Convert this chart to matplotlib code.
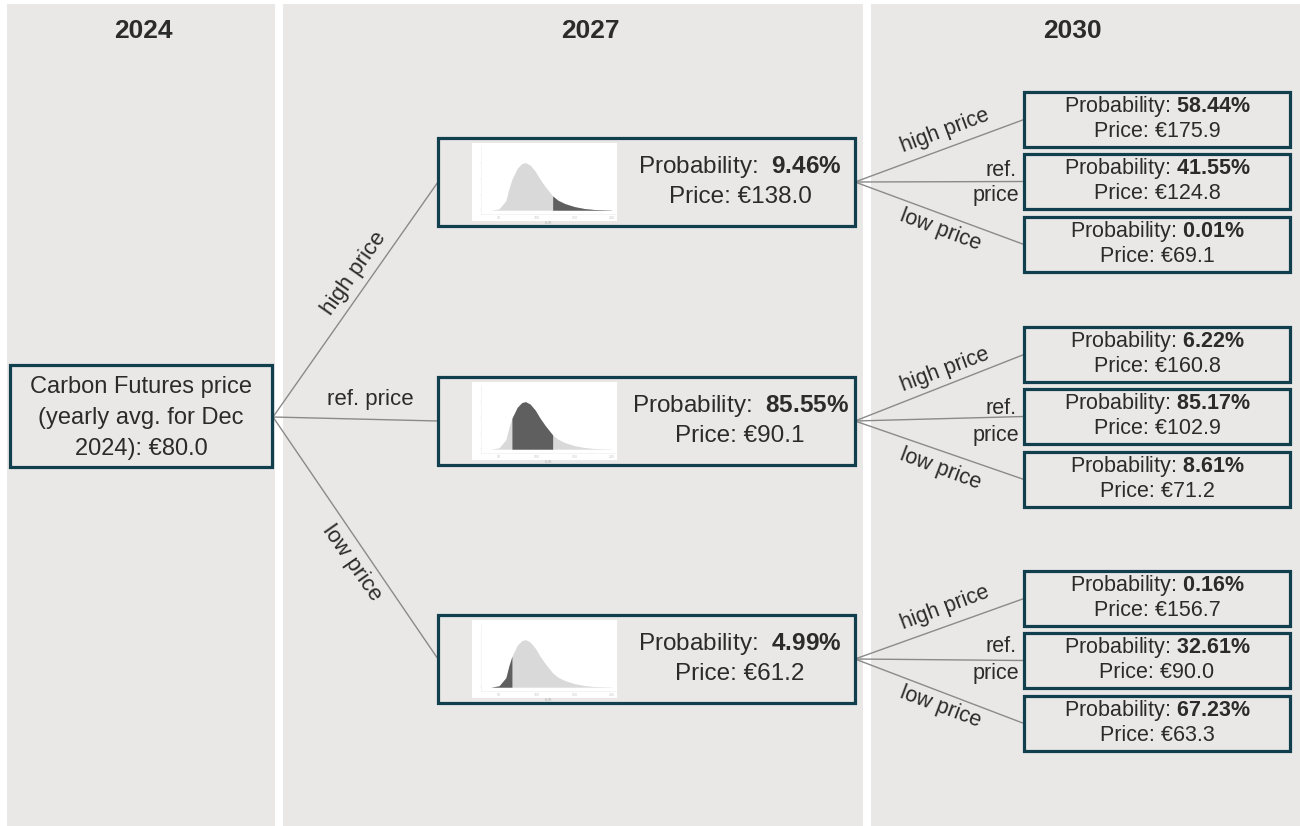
import matplotlib
matplotlib.use('Agg')
import matplotlib.pyplot as plt
from matplotlib.patches import Rectangle

plt.rcParams['font.family'] = ['Liberation Sans', 'DejaVu Sans']
plt.rcParams['mathtext.fontset'] = 'custom'
plt.rcParams['mathtext.rm'] = 'Liberation Sans'
plt.rcParams['mathtext.bf'] = 'Liberation Sans:bold'

# data
years = ['2024', '2027', '2030']
start_label = 'Carbon Futures price\n(yearly avg. for Dec\n2024): €80.0'
branch_labels = ['high price', 'ref. price', 'low price']
mid_probs = [9.46, 85.55, 4.99]
mid_prices = [138.0, 90.1, 61.2]
end_probs = [[58.44, 41.55, 0.01], [6.22, 85.17, 8.61], [0.16, 32.61, 67.23]]
end_prices = [[175.9, 124.8, 69.1], [160.8, 102.9, 71.2], [156.7, 90.0, 63.3]]

# 2027 price density (relative to peak)
density_x = [39, 50, 59, 63, 67, 74, 80, 85, 91, 98, 104, 111, 121, 128, 137, 150, 163, 176, 199]
density_y = [0, 0.03, 0.2, 0.45, 0.65, 0.88, 0.98, 1.0, 0.95, 0.82, 0.66, 0.5, 0.3, 0.21,
             0.14, 0.075, 0.035, 0.015, 0.004]
shade_ranges = [(121, 199), (67, 121), (39, 67)]

PANEL = '#e9e8e6'
EDGE = '#123f4d'
TXT = '#2b2b2b'
LINE = '#8a8a8a'
W, H = 1300, 826

fig = plt.figure(figsize=(13, 8.26), dpi=100)
ax = fig.add_axes([0, 0, 1, 1])
ax.set_xlim(0, W)
ax.set_ylim(H, 0)
ax.axis('off')

# background panels
panels = [(7, 275), (283, 863), (871, 1300)]
header_x = [143, 590, 1072]
for (x0, x1), yr, hx in zip(panels, years, header_x):
    ax.add_patch(Rectangle((x0, 4), x1 - x0, H - 4, facecolor=PANEL, edgecolor='none', zorder=0))
    ax.text(hx, 31, yr, ha='center', va='center', fontsize=19, fontweight='bold', color=TXT)


def box(x0, y0, x1, y1):
    ax.add_patch(Rectangle((x0, y0), x1 - x0, y1 - y0, facecolor=PANEL, edgecolor=EDGE,
                           linewidth=2.3, zorder=3))


# starting box
box(10, 365, 272, 467)
ax.text(141, 418, start_label, ha='center', va='center', fontsize=17, color=TXT,
        linespacing=1.5, zorder=4)

origin = (273, 417)
mid_tops = [138, 377, 615]
mid_h = 88
label_pos = [(354, 273, 55), (370, 400, 0), (352, 563, -55)]

for i in range(3):
    top = mid_tops[i]
    cy = top + mid_h / 2
    ax.plot([origin[0], 438], [origin[1], cy], color=LINE, lw=1, zorder=2)
    lx, ly, rot = label_pos[i]
    ax.text(lx, ly, branch_labels[i], ha='center', va='center', rotation=rot,
            fontsize=16, color=TXT, rotation_mode='anchor')
    box(438, top, 855, top + mid_h)
    ax.text(740, cy - 15, 'Probability:  $\\mathbf{%.2f\\%%}$' % mid_probs[i], ha='center',
            va='center', fontsize=17.5, color=TXT, zorder=4)
    ax.text(740, cy + 15, f'Price: €{mid_prices[i]:.1f}', ha='center', va='center',
            fontsize=17.5, color=TXT, zorder=4)

    # small density chart
    ix0, iy0, ix1, iy1 = 472, top + 5, 617, top + 83
    ax.add_patch(Rectangle((ix0, iy0), ix1 - ix0, iy1 - iy0, facecolor='white',
                           edgecolor='none', zorder=4))
    ins = fig.add_axes([481 / W, 1 - (iy0 + 71) / H, 135 / W, 68 / H], zorder=5)
    ins.patch.set_alpha(0)
    ins.fill_between(density_x, density_y, color='#d9d9d9', lw=0)
    lo, hi = shade_ranges[i]
    mask = [lo <= v <= hi for v in density_x]
    ins.fill_between(density_x, density_y, where=mask, color='#5f5f5f', lw=0)
    ins.set_xlim(26, 205)
    ins.set_ylim(-0.08, 1.35)
    ins.set_xticks([50, 100, 150, 200])
    ins.set_yticks([0, 0.33, 0.66, 1.0])
    ins.set_yticklabels([])
    ins.tick_params(labelsize=2.5, labelcolor='#c8c8c8', length=1, width=0.3,
                    color='#e0e0e0', pad=0.5)
    ins.set_xlabel('EUR', fontsize=2.5, color='#b0b0b0', labelpad=0.5)
    for s in ['top', 'right']:
        ins.spines[s].set_visible(False)
    for s in ['left', 'bottom']:
        ins.spines[s].set_color('#ececec')
        ins.spines[s].set_linewidth(0.4)

    # 2030 branches
    end_tops = [[92, 154, 217], [327, 389, 452], [571, 633, 696]][i]
    oy = cy
    for j in range(3):
        bt = end_tops[j]
        ecy = bt + 27.5
        ax.plot([855, 1024], [oy, ecy], color=LINE, lw=1, zorder=2)
        box(1024, bt, 1290, bt + 55)
        ax.text(1157, ecy - 13, 'Probability: $\\mathbf{%.2f\\%%}$' % end_probs[i][j],
                ha='center', va='center', fontsize=15.5, color=TXT, zorder=4)
        ax.text(1157, ecy + 12, f'Price: €{end_prices[i][j]:.1f}', ha='center',
                va='center', fontsize=15.5, color=TXT, zorder=4)
    ax.text(945, oy - 51, 'high price', ha='center', va='center', rotation=20.5,
            fontsize=15.5, color=TXT, rotation_mode='anchor')
    ax.text(1017, oy - 12, 'ref.', ha='right', va='center', fontsize=15.5, color=TXT)
    ax.text(1019, oy + 14, 'price', ha='right', va='center', fontsize=15.5, color=TXT)
    ax.text(940, oy + 48, 'low price', ha='center', va='center', rotation=-20.5,
            fontsize=15.5, color=TXT, rotation_mode='anchor')

fig.savefig('out.png', dpi=100, facecolor='white')
